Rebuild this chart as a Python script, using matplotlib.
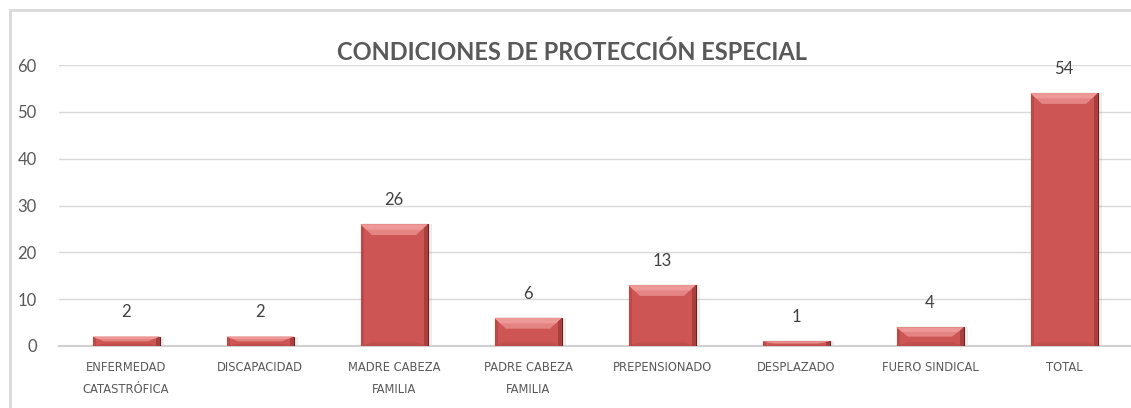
import matplotlib
matplotlib.use('Agg')
import matplotlib.pyplot as plt
from matplotlib.patches import Polygon, Rectangle

categorias = ['ENFERMEDAD\nCATASTRÓFICA', 'DISCAPACIDAD', 'MADRE CABEZA\nFAMILIA',
              'PADRE CABEZA\nFAMILIA', 'PREPENSIONADO', 'DESPLAZADO',
              'FUERO SINDICAL', 'TOTAL']
valores = [2, 2, 26, 6, 13, 1, 4, 54]
yticks = [0, 10, 20, 30, 40, 50, 60]

plt.rcParams['font.family'] = ['Lato', 'DejaVu Sans']

fig = plt.figure(figsize=(11.31, 4.08), dpi=100)
ax = fig.add_axes([59/1131, 1-346/408, 1-59/1131, (346-65)/408])

# chart border (top/left visible)
fig.patches.append(Rectangle((9.5/1131, -0.1), 1.2, 1-10/408+0.1, transform=fig.transFigure,
                             fill=False, edgecolor='#d9d9d9', linewidth=2, zorder=0))

x = list(range(len(valores)))
w = 0.5
cara = '#cd5654'
ax.bar(x, valores, width=w, color=cara, edgecolor='#6e2020', linewidth=0.8, zorder=3)

# bevel effect
bx = 0.085
sx = 0.025
for xi, h in zip(x, valores):
    l, r = xi - w/2, xi + w/2
    by = min(2.3, h/2)
    top = Polygon([(l, h), (r, h), (r-bx, h-by), (l+bx, h-by)], closed=True,
                  facecolor='#e58583', edgecolor='none', zorder=4)
    top2 = Polygon([(l, h), (r, h), (r-bx*0.5, h-by*0.5), (l+bx*0.5, h-by*0.5)], closed=True,
                   facecolor='#ee9997', edgecolor='none', zorder=4)
    right = Polygon([(r, h), (r, 0), (r-sx, 0), (r-sx, h-by*0.3)], closed=True,
                    facecolor='#a8403e', edgecolor='none', zorder=4)
    left = Polygon([(l, h), (l, 0), (l+sx, 0), (l+sx, h-by*0.3)], closed=True,
                   facecolor='#be4a48', edgecolor='none', zorder=4)
    bottom = Polygon([(l, 0), (r, 0), (r-bx, min(0.8, h/4)), (l+bx, min(0.8, h/4))], closed=True,
                     facecolor='#c04e4c', edgecolor='none', zorder=4)
    for p in (bottom, left, right, top, top2):
        ax.add_patch(p)
    ax.add_patch(Rectangle((r, 0), 0.035, h, facecolor='#000000', alpha=0.07,
                           edgecolor='none', zorder=2))
    ax.annotate(str(h), (xi, h), xytext=(0, 17.5), textcoords='offset points',
                ha='center', va='center', fontsize=12, color='#404040', zorder=5)

ax.set_xlim(-0.5, len(valores) - 0.5)
ax.set_ylim(0, 60)
ax.set_yticks(yticks)
ax.set_xticks(x)
ax.set_xticklabels(categorias, fontsize=8.3, color='#595959', linespacing=1.9,
                   family=['DejaVu Sans'])
ax.tick_params(axis='y', length=0, pad=16, labelsize=12, labelcolor='#595959')
ax.tick_params(axis='x', length=0, pad=11)
ax.grid(axis='y', color='#d9d9d9', linewidth=1, zorder=0)
ax.set_axisbelow(True)
for s in ['top', 'right', 'left']:
    ax.spines[s].set_visible(False)
ax.spines['bottom'].set_color('#d0d0d0')
ax.spines['bottom'].set_linewidth(1.5)
ax.spines['bottom'].set_zorder(2)

fig.text(572/1131, 1-52/408, 'CONDICIONES DE PROTECCIÓN ESPECIAL', ha='center', va='center',
         fontsize=17, fontweight='bold', color='#595959')

fig.savefig('out.png', dpi=100)
